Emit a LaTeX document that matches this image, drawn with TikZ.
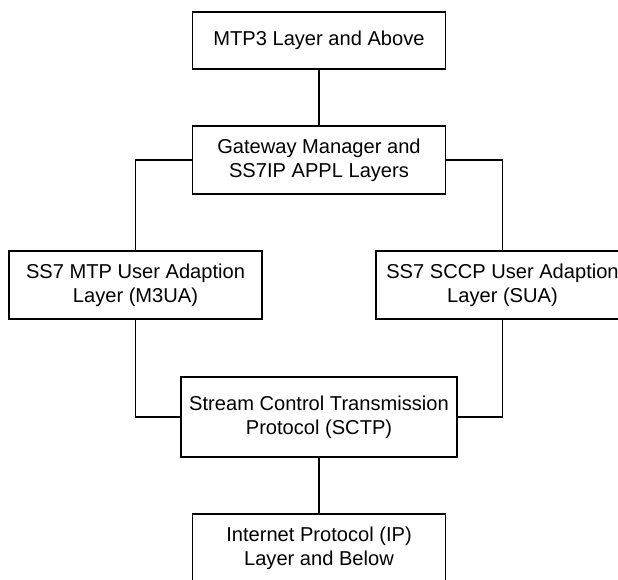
\documentclass[tikz,border=0pt]{standalone}
\usepackage{fontspec}
\setmainfont{Liberation Sans}
\begin{document}
\begin{tikzpicture}[x=1pt,y=-1pt,
  layerbox/.style={draw=black, line width=1.5pt, rectangle, align=center,
    minimum width=253pt, minimum height=68pt, inner sep=0pt,
    font=\fontsize{20.1}{23.7}\selectfont},
  link/.style={draw=black, line width=1.5pt}]
\useasboundingbox (0,0) rectangle (618,579);
\clip (0,0) rectangle (618,579);
\fill[white] (0,0) rectangle (618,579);
\node[layerbox, minimum height=57pt] (mtp3) at (319,40.5) {MTP3 Layer and Above};
\node[layerbox] (gw) at (319,160) {Gateway Manager and\\SS7IP APPL Layers};
\node[layerbox] (m3ua) at (135.5,285) {SS7 MTP User Adaption\\Layer (M3UA)};
\node[layerbox] (sua) at (502.5,285) {SS7 SCCP User Adaption\\Layer (SUA)};
\node[layerbox, minimum width=276pt, minimum height=80pt] (sctp) at (319,417) {Stream Control Transmission\\Protocol (SCTP)};
\node[layerbox] (ip) at (319,548) {Internet Protocol (IP)\\Layer and Below};
\draw[link] (mtp3.south) -- (gw.north);
\draw[link] (gw.west) -| (m3ua.north);
\draw[link] (gw.east) -| (sua.north);
\draw[link] (m3ua.south) |- (sctp.west);
\draw[link] (sua.south) |- (sctp.east);
\draw[link] (sctp.south) -- (ip.north);
\end{tikzpicture}
\end{document}
